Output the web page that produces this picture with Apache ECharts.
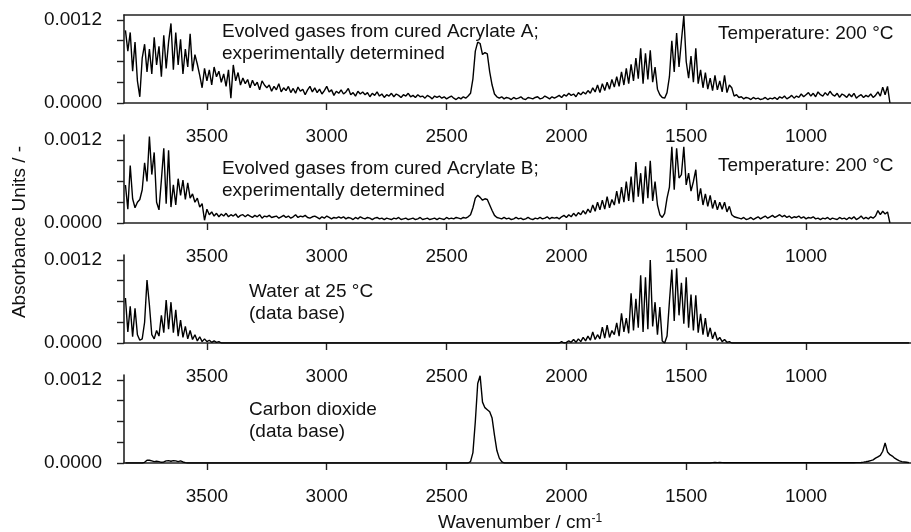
<!DOCTYPE html>
<html>
<head>
<meta charset="utf-8">
<title>FTIR spectra of evolved gases</title>
<script src="https://cdn.jsdelivr.net/npm/echarts@6/dist/echarts.min.js"></script>
<style>
  html, body { margin: 0; padding: 0; background: #fff; }
  #chart { width: 911px; height: 532px; }
</style>
</head>
<body>
<div id="chart"></div>
<script>
// Spectra sampled every 10 cm-1, starting at 3840 cm-1 and going down.
const WN_START = 3840;
const WN_STEP = 10;

// Absorbance values in units of 1e-4, one row per 100 cm-1.
const acrylateA = [
  10.5, 7.5, 10.2, 4.6, 8.8, 3.2, 0.9, 6.5, 8.5, 4.5,
  7.8, 4.2, 9.5, 5.5, 8.2, 3.8, 9.8, 5.0, 8.8, 11.5,
  4.8, 10.2, 5.5, 9.2, 4.2, 7.8, 5.2, 10.0, 4.6, 7.0,
  5.6, 4.0, 2.2, 5.0, 3.2, 4.8, 2.6, 5.2, 3.8, 4.6,
  3.0, 4.2, 2.4, 4.8, 0.7, 5.5, 3.2, 4.4, 2.6, 3.6,
  2.8, 3.4, 2.2, 3.3, 2.5, 3.0, 1.9, 3.2, 2.6, 2.2,
  2.6, 1.7, 2.4, 1.9, 2.8, 1.6, 2.2, 1.8, 2.4, 1.5,
  2.1, 1.4, 2.3, 1.7, 2.0, 1.2, 1.9, 2.4, 1.6, 2.2,
  1.5, 2.0, 1.3, 1.8, 2.4, 1.6, 1.9, 1.1, 1.7, 1.4,
  1.9, 1.3, 1.6, 2.1, 1.2, 1.5, 1.0, 1.7, 1.3, 1.6,
  1.2, 1.5, 0.9, 1.4, 1.1, 1.6, 1.0, 1.3, 0.8, 1.2,
  1.0, 1.4, 0.9, 1.3, 1.1, 0.8, 1.2, 1.0, 1.4, 0.9,
  1.1, 0.8, 1.2, 0.9, 1.0, 0.7, 1.1, 0.9, 0.6, 1.0,
  0.8, 1.0, 0.7, 0.9, 0.6, 0.8, 1.0, 0.7, 0.5, 0.8,
  0.6, 0.9, 0.7, 1.0, 1.4, 3.5, 7.5, 8.8, 8.6, 7.0,
  7.3, 7.1, 4.5, 2.6, 1.3, 0.9, 0.7, 0.9, 0.6, 0.8,
  0.7, 0.5, 0.8, 0.6, 0.7, 0.9, 0.6, 0.5, 0.8, 0.7,
  0.6, 0.8, 0.9, 0.6, 0.7, 1.0, 0.8, 0.6, 0.9, 0.7,
  0.9, 1.1, 0.8, 1.2, 1.0, 1.4, 1.1, 1.3, 0.9, 1.5,
  1.2, 1.6, 1.3, 1.8, 1.4, 2.2, 1.6, 2.6, 1.5, 2.8,
  1.8, 3.0, 2.0, 3.4, 2.3, 3.8, 2.4, 4.5, 2.6, 5.0,
  2.8, 5.6, 3.2, 6.5, 3.5, 7.9, 2.8, 7.2, 3.4, 7.6,
  3.0, 5.2, 2.0, 1.2, 0.8, 0.7, 1.5, 3.8, 9.0, 4.5,
  10.1, 5.2, 9.0, 12.6, 6.0, 3.6, 6.8, 3.0, 7.9, 2.8,
  4.8, 2.2, 4.4, 2.0, 3.6, 1.8, 4.0, 1.9, 3.2, 1.6,
  4.0, 1.5, 2.6, 2.2, 1.0, 1.2, 0.8, 0.9, 0.6, 0.8,
  0.7, 0.5, 0.8, 0.6, 0.7, 0.5, 0.6, 0.8, 0.5, 0.7,
  0.6, 0.8, 0.5, 0.9, 0.7, 1.0, 0.6, 0.8, 1.1, 0.7,
  1.0, 0.8, 1.3, 0.9, 1.2, 1.5, 1.0, 1.4, 0.9, 1.6,
  1.2, 1.0, 1.5, 1.1, 1.7, 1.2, 1.0, 1.4, 0.8, 1.3,
  1.1, 0.8, 1.3, 0.9, 1.4, 0.7, 1.0, 1.2, 0.8, 1.1,
  0.9, 1.3, 0.8, 1.1, 1.6, 1.0, 2.3, 1.2, 2.4, 0
];

const acrylateB = [
  5.5, 2.0, 8.3, 3.5, 2.2, 3.0, 3.4, 4.8, 8.7, 6.0,
  12.5, 7.0, 10.2, 3.0, 1.9, 6.2, 10.8, 2.8, 10.5, 2.3,
  5.5, 2.6, 6.4, 4.0, 6.2, 3.4, 5.8, 3.6, 4.2, 3.0,
  3.6, 2.3, 2.8, 0.4, 2.0, 1.2, 1.6, 1.0, 1.4, 0.9,
  1.3, 1.0, 1.4, 0.9, 1.2, 1.0, 1.3, 0.8, 1.1, 1.2,
  0.9, 1.2, 1.0, 0.8, 1.1, 0.9, 1.2, 0.7, 1.0, 0.9,
  1.1, 0.8, 0.9, 1.0, 0.7, 0.9, 1.1, 0.8, 1.0, 0.7,
  0.9, 1.2, 0.8, 1.0, 0.9, 1.1, 0.8, 0.7, 0.9, 1.0,
  0.8, 0.6, 0.9, 0.7, 1.0, 0.8, 0.6, 0.8, 0.7, 0.9,
  0.7, 0.9, 0.6, 0.8, 0.7, 0.5, 0.8, 0.6, 0.9, 0.7,
  0.6, 0.8, 0.7, 0.5, 0.7, 0.8, 0.6, 0.7, 0.5, 0.7,
  0.6, 0.5, 0.7, 0.6, 0.8, 0.5, 0.6, 0.7, 0.5, 0.6,
  0.7, 0.5, 0.6, 0.8, 0.5, 0.6, 0.7, 0.5, 0.6, 0.7,
  0.5, 0.7, 0.6, 0.5, 0.8, 0.6, 0.7, 0.6, 0.8, 0.7,
  0.6, 0.8, 0.7, 0.9, 1.2, 2.2, 3.6, 4.0, 3.7, 3.3,
  3.5, 3.4, 2.6, 1.8, 1.1, 0.8, 0.7, 0.6, 0.8, 0.6,
  0.7, 0.5, 0.6, 0.8, 0.6, 0.7, 0.5, 0.6, 0.8, 0.6,
  0.5, 0.7, 0.6, 0.8, 0.6, 0.7, 0.9, 0.6, 0.8, 0.7,
  0.8, 0.6, 0.9, 1.1, 0.8, 1.2, 0.9, 1.4, 1.0, 1.5,
  1.2, 1.8, 1.3, 2.0, 1.5, 2.6, 1.7, 3.0, 1.9, 3.3,
  2.0, 3.8, 2.2, 3.4, 2.6, 4.6, 2.8, 5.2, 3.0, 6.0,
  3.2, 6.7, 3.0, 8.8, 3.8, 7.2, 2.8, 8.2, 3.6, 9.0,
  3.2, 6.0, 2.6, 1.2, 0.8, 1.4, 3.6, 5.2, 11.0, 4.8,
  10.8, 6.5, 7.0, 11.0, 5.5, 7.2, 4.6, 6.0, 7.7, 3.2,
  5.0, 2.6, 4.2, 2.4, 4.0, 2.1, 3.3, 1.9, 3.0, 2.0,
  3.0, 1.6, 2.4, 1.2, 0.9, 0.8, 0.7, 0.6, 0.8, 0.5,
  0.6, 0.8, 0.5, 0.7, 0.9, 0.6, 0.8, 1.0, 0.7, 0.9,
  1.1, 0.8, 1.0, 1.2, 0.9, 1.1, 0.8, 1.0, 0.7, 0.9,
  0.8, 1.0, 0.7, 0.9, 0.6, 0.8, 0.7, 0.9, 0.6, 0.7,
  0.5, 0.7, 0.6, 0.8, 0.5, 0.7, 0.6, 0.5, 0.8, 0.6,
  0.7, 0.5, 0.8, 0.6, 0.9, 0.5, 0.7, 1.0, 0.6, 0.8,
  0.6, 0.9, 0.7, 1.0, 1.8, 1.2, 1.7, 1.3, 1.6, 0
];

const water = [
  6.5, 1.6, 5.3, 0.9, 5.0, 1.2, 0.4, 0.6, 3.0, 9.1,
  5.5, 1.2, 0.6, 1.8, 1.0, 4.0, 1.5, 6.2, 2.0, 5.9,
  1.5, 4.8, 1.0, 3.3, 0.8, 2.4, 0.6, 1.8, 0.5, 1.2,
  0.3, 0.9, 0.2, 0.6, 0.2, 0.4, 0.1, 0.3, 0.1, 0.2,
  0, 0, 0, 0, 0, 0, 0, 0, 0, 0,
  0, 0, 0, 0, 0, 0, 0, 0, 0, 0,
  0, 0, 0, 0, 0, 0, 0, 0, 0, 0,
  0, 0, 0, 0, 0, 0, 0, 0, 0, 0,
  0, 0, 0, 0, 0, 0, 0, 0, 0, 0,
  0, 0, 0, 0, 0, 0, 0, 0, 0, 0,
  0, 0, 0, 0, 0, 0, 0, 0, 0, 0,
  0, 0, 0, 0, 0, 0, 0, 0, 0, 0,
  0, 0, 0, 0, 0, 0, 0, 0, 0, 0,
  0, 0, 0, 0, 0, 0, 0, 0, 0, 0,
  0, 0, 0, 0, 0, 0, 0, 0, 0, 0,
  0, 0, 0, 0, 0, 0, 0, 0, 0, 0,
  0, 0, 0, 0, 0, 0, 0, 0, 0, 0,
  0, 0, 0, 0, 0, 0, 0, 0, 0, 0,
  0, 0, 0.2, 0, 0.1, 0.3, 0.1, 0.5, 0.1, 0.6,
  0.2, 0.8, 0.3, 1.0, 0.4, 1.6, 0.5, 1.2, 0.6, 2.3,
  0.7, 2.6, 0.8, 1.8, 1.2, 2.9, 1.0, 4.3, 1.6, 3.6,
  1.4, 7.2, 1.8, 6.4, 2.2, 9.8, 1.6, 9.5, 2.0, 12.0,
  2.4, 5.9, 1.2, 5.2, 0.3, 0, 1.0, 6.0, 10.6, 3.2,
  10.8, 4.0, 8.7, 2.8, 9.5, 2.2, 7.0, 1.8, 6.9, 1.5,
  4.2, 1.2, 3.6, 0.9, 2.2, 0.6, 1.6, 0.4, 0.8, 0.2,
  0.5, 0.1, 0.2, 0, 0, 0, 0, 0, 0, 0,
  0, 0, 0, 0, 0, 0, 0, 0, 0, 0,
  0, 0, 0, 0, 0, 0, 0, 0, 0, 0,
  0, 0, 0, 0, 0, 0, 0, 0, 0, 0,
  0, 0, 0, 0, 0, 0, 0, 0, 0, 0,
  0, 0, 0, 0, 0, 0, 0, 0, 0, 0,
  0, 0, 0, 0, 0, 0, 0, 0, 0, 0,
  0, 0, 0, 0, 0, 0, 0, 0
];

const carbonDioxide = [
  0, 0, 0, 0, 0, 0, 0, 0, 0.1, 0.4,
  0.4, 0.3, 0.2, 0.25, 0.2, 0.1, 0.15, 0.3, 0.35, 0.25,
  0.35, 0.3, 0.2, 0.3, 0.15, 0.05, 0, 0, 0, 0,
  0, 0, 0, 0, 0, 0, 0, 0, 0, 0,
  0, 0, 0, 0, 0, 0, 0, 0, 0, 0,
  0, 0, 0, 0, 0, 0, 0, 0, 0, 0,
  0, 0, 0, 0, 0, 0, 0, 0, 0, 0,
  0, 0, 0, 0, 0, 0, 0, 0, 0, 0,
  0, 0, 0, 0, 0, 0, 0, 0, 0, 0,
  0, 0, 0, 0, 0, 0, 0, 0, 0, 0,
  0, 0, 0, 0, 0, 0, 0, 0, 0, 0,
  0, 0, 0, 0, 0, 0, 0, 0, 0, 0,
  0, 0, 0, 0, 0, 0, 0, 0, 0, 0,
  0, 0, 0, 0, 0, 0, 0, 0, 0, 0,
  0, 0, 0, 0, 0.2, 1.5, 6.0, 11.5, 12.6, 8.8,
  8.0, 7.7, 7.4, 6.5, 4.0, 1.8, 0.7, 0.2, 0, 0,
  0, 0, 0, 0, 0, 0, 0, 0, 0, 0,
  0, 0, 0, 0, 0, 0, 0, 0, 0, 0,
  0, 0, 0, 0, 0, 0, 0, 0, 0, 0,
  0, 0, 0, 0, 0, 0, 0, 0, 0, 0,
  0, 0, 0, 0, 0, 0, 0, 0, 0, 0,
  0, 0, 0, 0, 0, 0, 0, 0, 0, 0,
  0, 0, 0, 0, 0, 0, 0, 0, 0, 0,
  0, 0, 0, 0, 0, 0, 0, 0, 0, 0,
  0, 0, 0, 0, 0, 0.05, 0.08, 0.05, 0.08, 0.05,
  0.03, 0.05, 0.03, 0.05, 0.03, 0.05, 0.03, 0.05, 0.03, 0.05,
  0.03, 0.05, 0.03, 0.05, 0.03, 0.05, 0.03, 0.05, 0.03, 0.05,
  0.03, 0.05, 0.03, 0.05, 0.03, 0.05, 0.03, 0.05, 0.03, 0.05,
  0.03, 0.05, 0.03, 0.05, 0.03, 0.05, 0.03, 0.05, 0.03, 0.05,
  0.03, 0.05, 0.03, 0.05, 0.03, 0.05, 0.03, 0.05, 0.03, 0.05,
  0.03, 0.05, 0.03, 0.05, 0.04, 0.05, 0.06, 0.08, 0.12, 0.18,
  0.25, 0.35, 0.45, 0.7, 0.9, 1.1, 1.7, 2.9, 1.6, 1.2,
  1.0, 0.7, 0.5, 0.3, 0.2, 0.15, 0.1, 0.05
];

const VALUE_UNIT = 1e-4;

// Axis ticks and labels
const xTickValues = [3500, 3000, 2500, 2000, 1500, 1000];
const yTickValues = [0, 0.0003, 0.0006, 0.0009, 0.0012];
const yLabelValues = [0, 0.0012];

const panelNotes = [
  { lines: ['Evolved gases from cured Acrylate A;', 'experimentally determined'], x: 222, y: 33, temp: 'Temperature: 200 °C', tempY: 35 },
  { lines: ['Evolved gases from cured Acrylate B;', 'experimentally determined'], x: 222, y: 170, temp: 'Temperature: 200 °C', tempY: 167 },
  { lines: ['Water at 25 °C', '(data base)'], x: 249, y: 293 },
  { lines: ['Carbon dioxide', '(data base)'], x: 249, y: 411 }
];

const spectra = [acrylateA, acrylateB, water, carbonDioxide];

const FONT = '"Liberation Sans", Arial, Helvetica, sans-serif';
const INK = '#111';
const AXIS_COLOR = '#222';

const toPoints = vals => vals.map((v, i) => [WN_START - i * WN_STEP, v * VALUE_UNIT]);

const grids = [];
const xAxes = [];
const yAxes = [];
const series = [];

spectra.forEach((vals, k) => {
  grids.push({ left: 124, width: 787, top: 15 + 120 * k, height: 88, containLabel: false, outerBoundsMode: 'none' });
  xAxes.push({
    type: 'value', gridIndex: k, min: 562, max: 3846, inverse: true,
    axisLine: { show: true, onZero: false, lineStyle: { color: AXIS_COLOR, width: 1.6 } },
    axisTick: { show: true, customValues: xTickValues, length: 7, lineStyle: { color: AXIS_COLOR, width: 1.4 } },
    axisLabel: { show: true, customValues: xTickValues, margin: 24, fontSize: 19, color: INK, fontFamily: FONT,
      formatter: v => String(v) },
    splitLine: { show: false }
  });
  yAxes.push({
    type: 'value', gridIndex: k, min: 0, max: 0.001272,
    axisLine: { show: true, lineStyle: { color: AXIS_COLOR, width: 1.6 } },
    axisTick: { show: true, customValues: yTickValues, length: 7, lineStyle: { color: AXIS_COLOR, width: 1.4 } },
    axisLabel: { show: true, customValues: yLabelValues, margin: 22, fontSize: 19, color: INK, fontFamily: FONT,
      formatter: v => v.toFixed(4) },
    splitLine: { show: false }
  });
  series.push({
    type: 'line', xAxisIndex: k, yAxisIndex: k, data: toPoints(vals),
    showSymbol: false, symbol: 'none', clip: true,
    lineStyle: { color: '#000', width: 1.4 }, silent: true
  });
});

// Frame line along the top of the first panel
xAxes.push({
  type: 'value', gridIndex: 0, position: 'top', min: 562, max: 3846, inverse: true,
  axisLine: { show: true, onZero: false, lineStyle: { color: AXIS_COLOR, width: 1.6 } },
  axisTick: { show: false }, axisLabel: { show: false }, splitLine: { show: false }
});

const graphics = [];
panelNotes.forEach(n => {
  n.lines.forEach((t, j) => {
    graphics.push({ type: 'text', left: n.x, top: n.y + 22 * j - 11,
      style: { text: t, fontSize: 19, fontFamily: FONT, fill: INK } });
  });
  if (n.temp) {
    graphics.push({ type: 'text', left: 718, top: n.tempY - 11,
      style: { text: n.temp, fontSize: 19, fontFamily: FONT, fill: INK } });
  }
});

// Axis titles
graphics.push({
  type: 'text', x: 20, y: 232, rotation: Math.PI / 2,
  style: { text: 'Absorbance Units / -', fontSize: 19, fontFamily: FONT, fill: INK, align: 'center', verticalAlign: 'middle' }
});
graphics.push({
  type: 'text', x: 520, y: 523,
  style: {
    text: 'Wavenumber / cm{sup|-1}', fontSize: 19, fontFamily: FONT, fill: INK, align: 'center', verticalAlign: 'middle',
    rich: { sup: { fontSize: 12, fontFamily: FONT, fill: INK, verticalAlign: 'top', padding: [0, 0, 8, 0] } }
  }
});

const chart = echarts.init(document.getElementById('chart'), null, { renderer: 'canvas' });
chart.setOption({
  animation: false,
  backgroundColor: '#fff',
  grid: grids,
  xAxis: xAxes,
  yAxis: yAxes,
  series: series,
  graphic: graphics
});
</script>
</body>
</html>
